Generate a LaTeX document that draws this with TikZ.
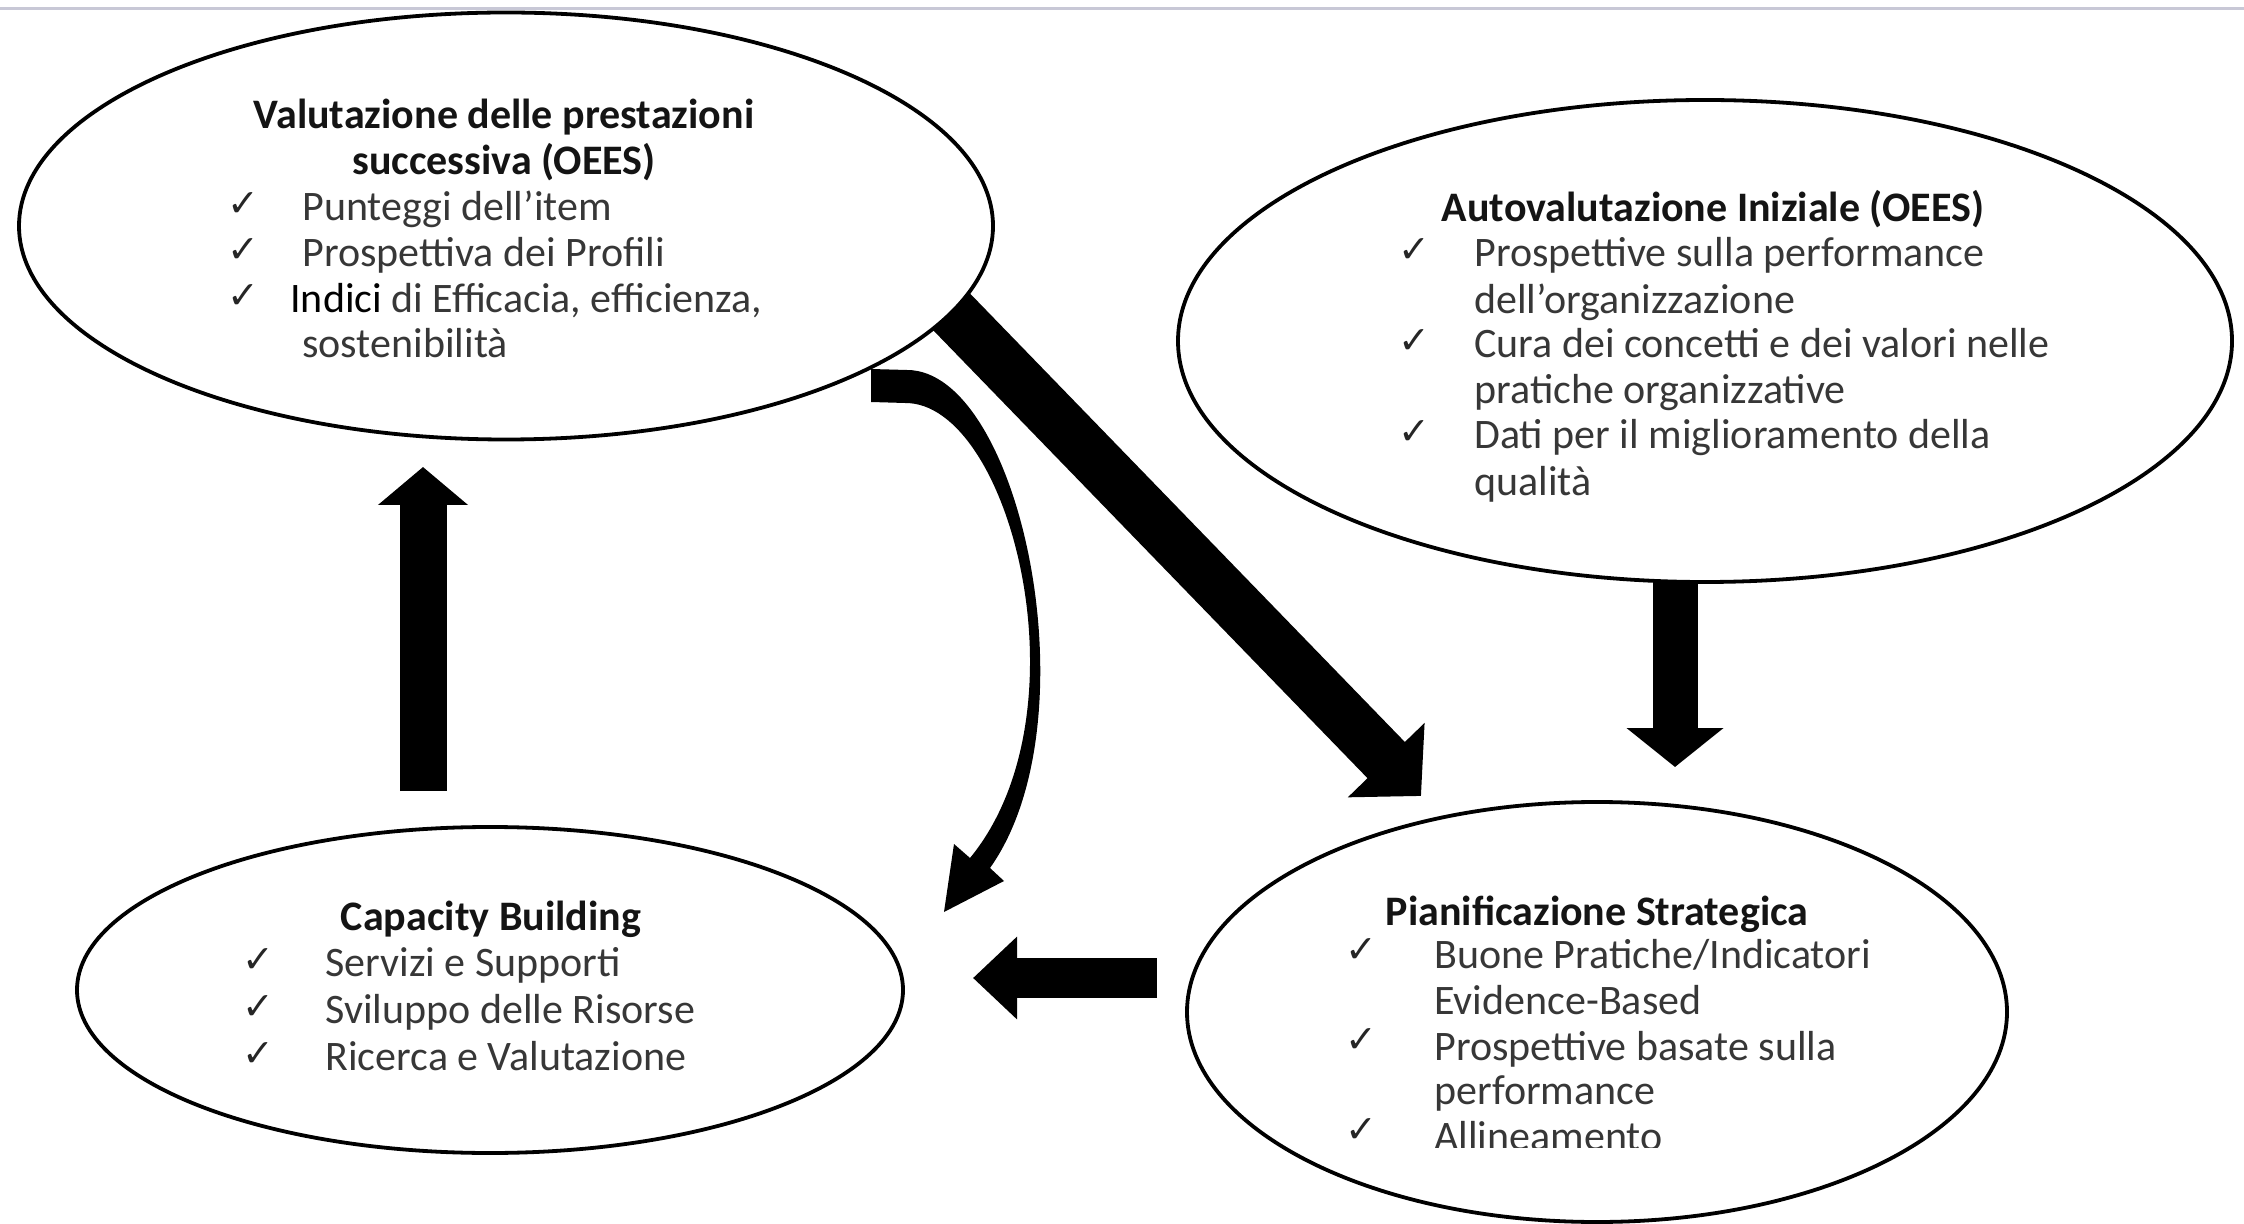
\documentclass[tikz,border=0pt]{standalone}
\usepackage{fontspec}
\setmainfont{Carlito}
\newfontfamily\symfont{DejaVu Sans}
\usetikzlibrary{shapes.geometric,arrows.meta}

\definecolor{rulegray}{RGB}{200,200,214}
\definecolor{itemgray}{RGB}{55,55,55}

\tikzset{
  bubble/.style={ellipse, draw=black, line width=1.9pt, fill=white, inner sep=0pt},
  head/.style={font=\fontsize{21}{23}\selectfont\bfseries, text=black!92, anchor=mid, inner sep=0pt},
  item/.style={font=\fontsize{21}{23}\selectfont, text=itemgray, anchor=mid west, inner sep=0pt},
  tick/.style={font=\symfont\fontsize{19}{21}\selectfont, text=black!85, anchor=mid, inner sep=0pt},
  blockarrow/.style n args={3}{draw=black, line width=#1, -{Triangle[width=#2,length=#3]}},
}

\begin{document}
\begin{tikzpicture}[x=0.5pt,y=-0.5pt]
\useasboundingbox (0,0) rectangle (2244,1224);
\fill[white] (0,0) rectangle (2244,1224);
\draw[rulegray, line width=1.6pt] (0,8.5) -- (2244,8.5);

% arrow end points
\coordinate (upS) at (423,791);   \coordinate (upT) at (423,467);
\coordinate (dnS) at (1675,560);  \coordinate (dnT) at (1675,767);
\coordinate (lfS) at (1157,978);  \coordinate (lfT) at (973,978);
\coordinate (dgS) at (911,270);   \coordinate (dgT) at (1421,796);

% straight block arrows
\draw[blockarrow={23.5pt}{44pt}{19pt}] (upS) -- (upT);
\draw[blockarrow={22.5pt}{47.5pt}{19.5pt}] (dnS) -- (dnT);
\draw[blockarrow={20pt}{40pt}{22pt}] (lfS) -- (lfT);
\draw[blockarrow={26pt}{52pt}{25pt}] (dgS) -- (dgT);

% tapered curved arrow
\fill[black] (871,369) -- (907,370) .. controls (1020,370) and (1095,720) .. (990,868)
  -- (1004,881) -- (944,912) -- (954,844) -- (970,858)
  .. controls (1090,712) and (1010,402) .. (905,403) -- (871,402) -- cycle;

% the four bubbles
\node[bubble, minimum width=974*0.5pt, minimum height=427*0.5pt] (eval) at (506,226) {};
\node[bubble, minimum width=1054*0.5pt, minimum height=482*0.5pt] (self) at (1705,341) {};
\node[bubble, minimum width=826*0.5pt, minimum height=326*0.5pt] (cap) at (490,990) {};
\node[bubble, minimum width=820*0.5pt, minimum height=420*0.5pt] (plan) at (1597,1012) {};

% Valutazione delle prestazioni successiva
\node[head] (evalH1) at (504,124) {Valutazione delle prestazioni};
\node[head] (evalH2) at (504,170) {successiva (OEES)};
\node[tick] (evalC1) at (243,212) {✓};
\node[tick] (evalC2) at (243,258) {✓};
\node[tick] (evalC3) at (243,304) {✓};
\node[item] (evalI1) at (302,216) {Punteggi dell’item};
\node[item] (evalI2) at (302,262) {Prospettiva dei Profili};
\node[item, text=black] (evalI3) at (290,308) {Indici \textcolor{itemgray}{di Efficacia, efficienza,}};
\node[item] (evalI4) at (302,353) {sostenibilità};

% Autovalutazione iniziale
\node[head] (selfH) at (1713,217) {Autovalutazione Iniziale (OEES)};
\node[tick] (selfC1) at (1414,258) {✓};
\node[tick] (selfC2) at (1414,349) {✓};
\node[tick] (selfC3) at (1414,440) {✓};
\node[item] (selfI1) at (1474,262) {Prospettive sulla performance};
\node[item] (selfI2) at (1474,309) {dell’organizzazione};
\node[item] (selfI3) at (1474,353) {Cura dei concetti e dei valori nelle};
\node[item] (selfI4) at (1474,399) {pratiche organizzative};
\node[item] (selfI5) at (1474,444) {Dati per il miglioramento della};
\node[item] (selfI6) at (1474,491) {qualità};

% Capacity Building
\node[head] (capH) at (491,926) {Capacity Building};
\node[tick] (capC1) at (258,968) {✓};
\node[tick] (capC2) at (258,1015) {✓};
\node[tick] (capC3) at (258,1062) {✓};
\node[item] (capI1) at (325,972) {Servizi e Supporti};
\node[item] (capI2) at (325,1019) {Sviluppo delle Risorse};
\node[item] (capI3) at (325,1066) {Ricerca e Valutazione};

% Pianificazione Strategica
\node[head] (planH) at (1597,921) {Pianificazione Strategica};
\node[tick] (planC1) at (1361,958) {✓};
\node[tick] (planC2) at (1361,1048) {✓};
\node[tick] (planC3) at (1361,1138) {✓};
\node[item] (planI1) at (1434,964) {Buone Pratiche/Indicatori};
\node[item] (planI2) at (1434,1010) {Evidence-Based};
\node[item] (planI3) at (1434,1056) {Prospettive basate sulla};
\node[item] (planI4) at (1434,1100) {performance};
\begin{scope}
  \clip (1400,1110) rectangle (1800,1147);
  \node[item] (planI5) at (1434,1146) {Allineamento};
\end{scope}
\end{tikzpicture}
\end{document}
